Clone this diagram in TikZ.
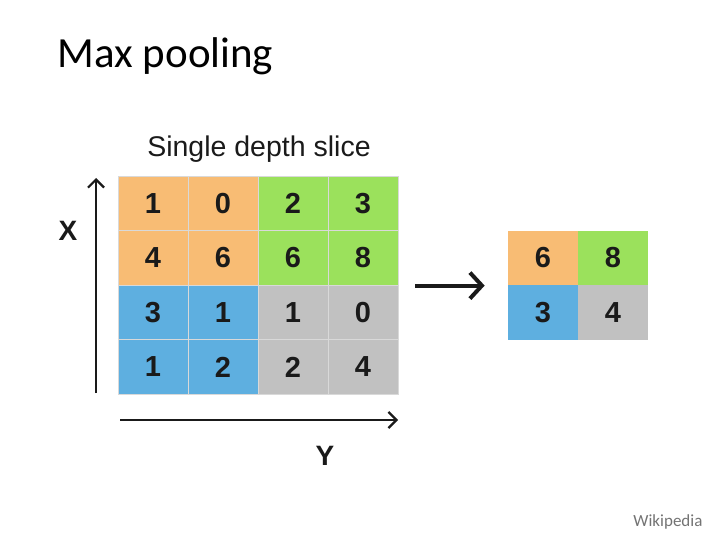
\documentclass[tikz,border=0pt]{standalone}
\usepackage{fontspec}
\setmainfont{Carlito}
\newfontfamily\arialfont{Liberation Sans}
\usetikzlibrary{arrows.meta}
\definecolor{poolorange}{HTML}{F8BC74}
\definecolor{poolgreen}{HTML}{9BE15C}
\definecolor{poolblue}{HTML}{5EAFE0}
\definecolor{poolgray}{HTML}{C1C1C1}
\definecolor{poolline}{HTML}{D9D9D9}
\definecolor{pooltext}{HTML}{1A1A1A}

\begin{document}
\begin{tikzpicture}[
      x=1pt, y=-1pt,
      cell/.style={draw=poolline, line width=0.7pt, minimum width=70pt,
                   minimum height=54.5pt, inner sep=0pt, text=pooltext,
                   font=\arialfont\bfseries\fontsize{29}{29}\selectfont},
      axlab/.style={text=pooltext, font=\arialfont\bfseries\fontsize{28}{28}\selectfont},
      axis/.style={-{Straight Barb[length=8pt,width=16pt]}, line width=2.2pt, pooltext},
      bigar/.style={-{Straight Barb[length=12pt,width=26pt]}, line width=4pt, pooltext},
    ]
    \useasboundingbox (0,0) rectangle (720,540);

    % title and source
    \node[anchor=west, font=\fontsize{43}{43}\selectfont] (title) at (54,56) {Max pooling};
    \node[anchor=east, text=black!55, font=\fontsize{17}{17}\selectfont] (src) at (706,522) {Wikipedia};

    % input slice
    \node[font=\arialfont\fontsize{28.5}{28.5}\selectfont, text=pooltext] (slice) at (259,149) {Single depth slice};
    \node[cell, fill=poolorange] (c11) at (153,203.5) {1};
    \node[cell, fill=poolorange] (c12) at (223,203.5) {0};
    \node[cell, fill=poolgreen]  (c13) at (293,203.5) {2};
    \node[cell, fill=poolgreen]  (c14) at (363,203.5) {3};
    \node[cell, fill=poolorange] (c21) at (153,258) {4};
    \node[cell, fill=poolorange] (c22) at (223,258) {6};
    \node[cell, fill=poolgreen]  (c23) at (293,258) {6};
    \node[cell, fill=poolgreen]  (c24) at (363,258) {8};
    \node[cell, fill=poolblue]   (c31) at (153,312.5) {3};
    \node[cell, fill=poolblue]   (c32) at (223,312.5) {1};
    \node[cell, fill=poolgray]   (c33) at (293,312.5) {1};
    \node[cell, fill=poolgray]   (c34) at (363,312.5) {0};
    \node[cell, fill=poolblue]   (c41) at (153,367) {1};
    \node[cell, fill=poolblue]   (c42) at (223,367) {2};
    \node[cell, fill=poolgray]   (c43) at (293,367) {2};
    \node[cell, fill=poolgray]   (c44) at (363,367) {4};

    % pooled output
    \node[cell, draw=none, fill=poolorange] (o11) at (543,258) {6};
    \node[cell, draw=none, fill=poolgreen]  (o12) at (613,258) {8};
    \node[cell, draw=none, fill=poolblue]   (o21) at (543,312.5) {3};
    \node[cell, draw=none, fill=poolgray]   (o22) at (613,312.5) {4};

    % axes
    \coordinate (xbot) at (96,393);
    \coordinate (xtop) at (96,178);
    \coordinate (ylft) at (120,420);
    \coordinate (yrgt) at (398,420);
    \node[axlab] (xl) at (68,231) {X};
    \node[axlab] (yl) at (325,456) {Y};

    \draw[axis] (xbot) -- (xtop);
    \draw[axis] (ylft) -- (yrgt);
    \draw[bigar, shorten <=17pt, shorten >=23pt] (c24.south east) -- (o11.south west);
  \end{tikzpicture}
\end{document}
